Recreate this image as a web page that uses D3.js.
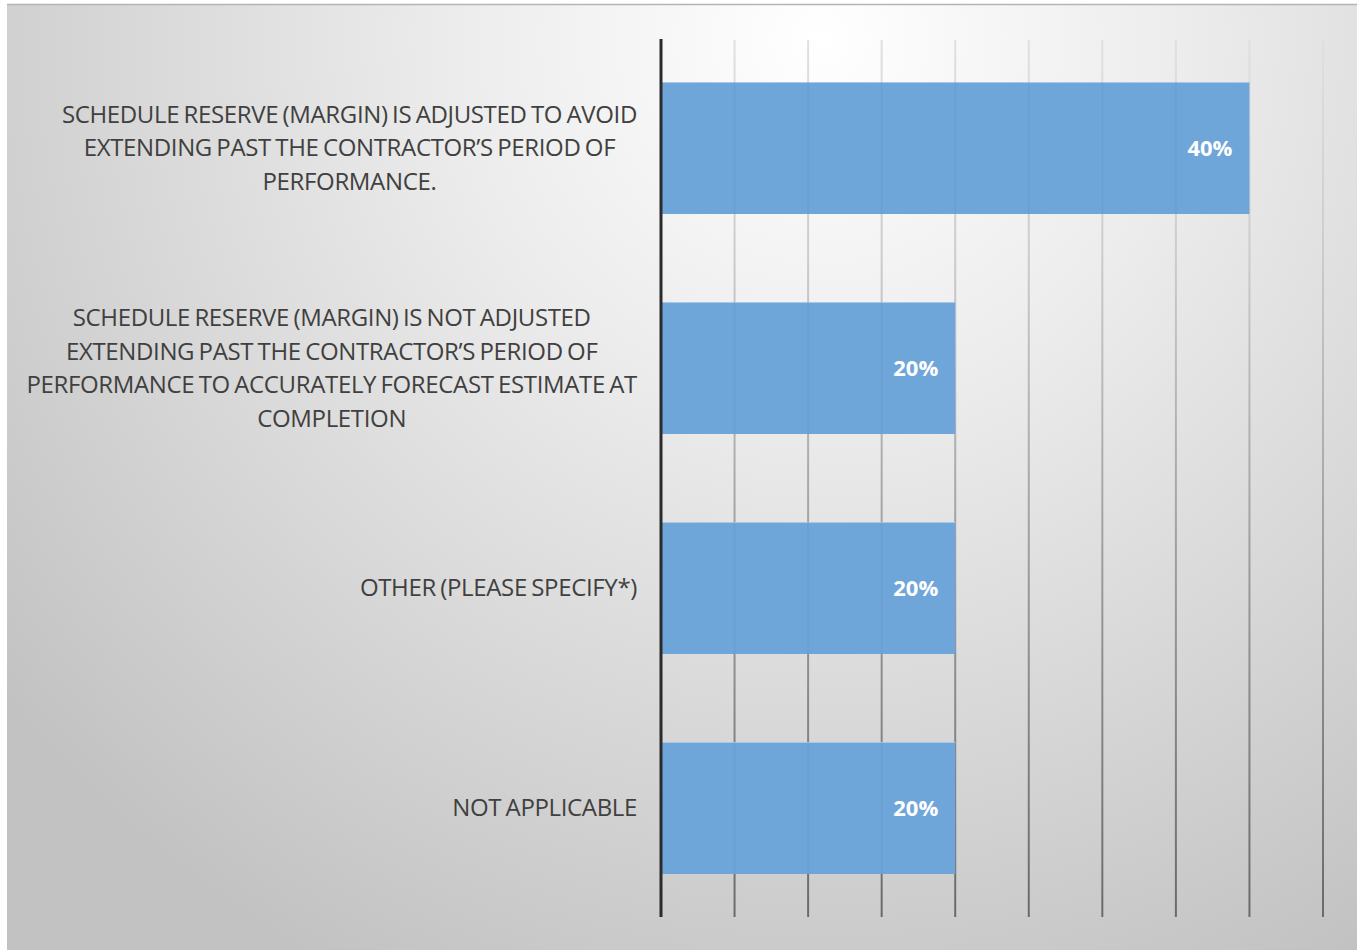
<!DOCTYPE html>
<html>
<head>
<meta charset="utf-8">
<script src="https://cdn.jsdelivr.net/npm/d3@7"></script>
<style>
  html, body { margin: 0; padding: 0; background: #fff; }
  svg { display: block; }
</style>
</head>
<body>
<svg id="chart" width="1364" height="950"></svg>
<script>
// Survey responses: how schedule reserve (margin) is handled
const categories = [
  ["SCHEDULE RESERVE (MARGIN) IS ADJUSTED TO AVOID",
   "EXTENDING PAST THE CONTRACTOR\u2019S PERIOD OF",
   "PERFORMANCE."],
  ["SCHEDULE RESERVE (MARGIN) IS NOT ADJUSTED",
   "EXTENDING PAST THE CONTRACTOR\u2019S PERIOD OF",
   "PERFORMANCE TO ACCURATELY FORECAST ESTIMATE AT",
   "COMPLETION"],
  ["OTHER (PLEASE SPECIFY*)"],
  ["NOT APPLICABLE"]
];
const values = [0.40, 0.20, 0.20, 0.20];
const gridTicks = [0, 0.05, 0.10, 0.15, 0.20, 0.25, 0.30, 0.35, 0.40, 0.45];

const svg = d3.select("#chart");
const H = 950;
const defs = svg.append("defs");

// panel background: soft radial light from the top
const bg = defs.append("radialGradient").attr("id", "bg")
  .attr("gradientUnits", "userSpaceOnUse")
  .attr("cx", 820).attr("cy", 40).attr("r", 1050);
bg.append("stop").attr("offset", "0%").attr("stop-color", "#ffffff");
bg.append("stop").attr("offset", "35%").attr("stop-color", "#ececec");
bg.append("stop").attr("offset", "100%").attr("stop-color", "#c2c2c2");

// gridlines darken toward the bottom of the plot
const gridGrad = defs.append("linearGradient").attr("id", "gridGrad")
  .attr("gradientUnits", "userSpaceOnUse")
  .attr("x1", 0).attr("y1", 40).attr("x2", 0).attr("y2", 918);
gridGrad.append("stop").attr("offset", "0%").attr("stop-color", "#e0e0e0");
gridGrad.append("stop").attr("offset", "25%").attr("stop-color", "#cbcbcb");
gridGrad.append("stop").attr("offset", "60%").attr("stop-color", "#9c9c9c");
gridGrad.append("stop").attr("offset", "100%").attr("stop-color", "#6a6a6a");

svg.append("rect")
  .attr("x", 7).attr("y", 4).attr("width", 1350).attr("height", H - 4)
  .attr("fill", "url(#bg)");
svg.append("line")
  .attr("x1", 7).attr("x2", 1357).attr("y1", 4.5).attr("y2", 4.5)
  .attr("stroke", "#b4b4b4").attr("stroke-width", 1.5);

const x = d3.scaleLinear().domain([0, 0.45]).range([661, 1323]);
const y = d3.scaleBand().domain(d3.range(categories.length))
  .range([38, 918]).paddingInner(0.4).paddingOuter(0.2);

// vertical gridlines
svg.append("g").selectAll("line").data(gridTicks.slice(1)).join("line")
  .attr("x1", d => x(d)).attr("x2", d => x(d))
  .attr("y1", 40).attr("y2", 917)
  .attr("stroke", "url(#gridGrad)").attr("stroke-width", 2);

// bars
const bars = svg.append("g");
bars.selectAll("rect").data(values).join("rect")
  .attr("x", x(0)).attr("y", (d, i) => y(i))
  .attr("width", d => x(d) - x(0)).attr("height", y.bandwidth())
  .attr("fill", "#6fa6da");
// light top edge on each bar
bars.selectAll("line").data(values).join("line")
  .attr("x1", x(0)).attr("x2", d => x(d))
  .attr("y1", (d, i) => y(i) + 0.5).attr("y2", (d, i) => y(i) + 0.5)
  .attr("stroke", "#a9c9ea").attr("stroke-width", 1);

// gridlines show faintly through the bars
values.forEach((v, i) => {
  svg.append("g").selectAll("line")
    .data(gridTicks.filter(t => t > 0 && t < v)).join("line")
    .attr("x1", d => x(d)).attr("x2", d => x(d))
    .attr("y1", y(i)).attr("y2", y(i) + y.bandwidth())
    .attr("stroke", "#4d7fb3").attr("stroke-opacity", 0.14).attr("stroke-width", 2);
});

// category axis line
svg.append("line")
  .attr("x1", x(0)).attr("x2", x(0)).attr("y1", 39).attr("y2", 917)
  .attr("stroke", "#2b2b2b").attr("stroke-width", 3);

// value labels
svg.append("g").selectAll("text").data(values).join("text")
  .attr("x", d => x(d) - 17)
  .attr("y", (d, i) => y(i) + y.bandwidth() / 2)
  .attr("dy", "0.35em")
  .attr("text-anchor", "end")
  .attr("font-family", "'Open Sans', sans-serif")
  .attr("font-weight", "bold")
  .attr("font-size", 22)
  .attr("fill", "#ffffff")
  .text(d => d3.format(".0%")(d));

// category labels: each block centred on its own width, right edge at the axis
const lineH = 33.5;
const labelRight = 637;
const lg = svg.append("g")
  .attr("font-family", "'Open Sans', sans-serif")
  .attr("font-size", 24)
  .attr("letter-spacing", -0.35)
  .attr("word-spacing", -1.5)
  .attr("fill", "#404040");
categories.forEach((lines, i) => {
  const g = lg.append("g");
  const cy = y(i) + y.bandwidth() / 2;
  const texts = g.selectAll("text").data(lines).join("text")
    .attr("y", (d, j) => cy + (j - (lines.length - 1) / 2) * lineH)
    .attr("dy", "0.35em")
    .attr("text-anchor", "middle")
    .text(d => d);
  let maxW = 0;
  texts.each(function () { maxW = Math.max(maxW, this.getComputedTextLength()); });
  texts.attr("x", labelRight - maxW / 2);
});
</script>
</body>
</html>
